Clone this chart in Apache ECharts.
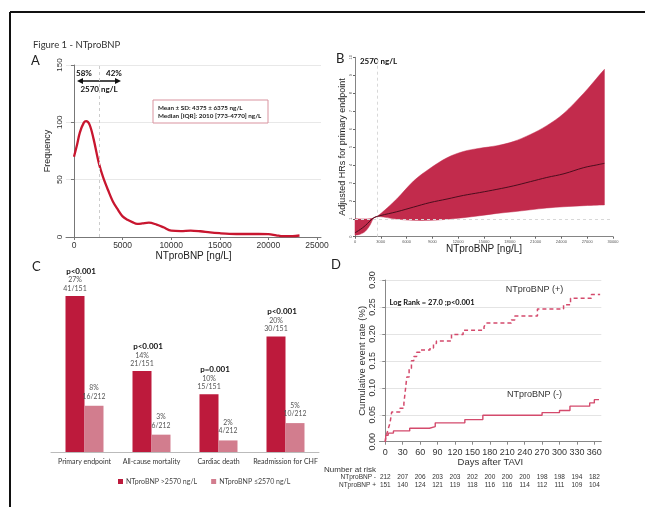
<!DOCTYPE html>
<html><head><meta charset="utf-8">
<script src="https://cdn.jsdelivr.net/npm/echarts@6/dist/echarts.min.js"></script>
<style>html,body{margin:0;padding:0;background:#fff}#c{width:645px;height:507px}</style>
</head><body><div id="c"></div>
<script>
// ---------- DATA ----------
const cutoff = 2570;
// Panel A: frequency curve of NTproBNP
const densX = [0, 300, 600, 1000, 1250, 1600, 2000, 2570, 3000, 3500, 4000, 4500, 5000, 5500, 6000, 6500, 7000, 7700, 8500, 9200, 10000, 11000, 12000, 13000, 14000, 15000, 16000, 17500, 19000, 20000, 20800, 21500, 22500, 23200];
const densY = [70, 80, 91, 99.5, 101, 98, 86, 64, 52, 41, 31, 24, 18, 15, 13, 11.5, 11.8, 12.5, 10.8, 8.5, 5.5, 5.2, 5.6, 5, 4, 3.3, 2.8, 2.6, 2.6, 2.5, 1.5, 0.7, 0.8, 1.3];
const aTicks = [0, 5000, 10000, 15000, 20000, 25000];

// Panel B: adjusted HR spline with CI
const hrX =     [0, 600, 1200, 1750, 2200, 2900, 4850, 6800, 8700, 10700, 12600, 14500, 16500, 18400, 20400, 22300, 24300, 26600, 28100, 29000];
const hrUpper = [1.0, 0.99, 0.99, 1.0, 1.05, 1.25, 2.1, 3.1, 3.8, 4.4, 4.75, 4.93, 5.07, 5.3, 5.7, 6.19, 6.88, 8.0, 8.83, 9.33];
const hrLower = [0.09, 0.14, 0.3, 0.65, 1.05, 1.12, 0.98, 0.91, 0.91, 0.97, 1.06, 1.17, 1.3, 1.39, 1.5, 1.6, 1.67, 1.73, 1.76, 1.77];
const hrMean =  [0.22, 0.4, 0.62, 0.88, 1.06, 1.17, 1.39, 1.65, 1.9, 2.1, 2.3, 2.46, 2.64, 2.83, 3.07, 3.3, 3.51, 3.85, 4.0, 4.09];

// Panel C: event rates
const endpoints = ['Primary endpoint', 'All-cause mortality', 'Cardiac death', 'Readmission for CHF'];
const pctHigh = [27, 14, 10, 20];
const pctLow = [8, 3, 2, 5];
const fracHigh = ['41/151', '21/151', '15/151', '30/151'];
const fracLow = ['16/212', '6/212', '4/212', '10/212'];
const pValues = ['p<0.001', 'p<0.001', 'p=0.001', 'p<0.001'];
const groupNames = ['NTproBNP >2570 ng/L', 'NTproBNP \u22642570 ng/L'];

// Panel D: Kaplan-Meier cumulative event rate
const dayTicks = [0, 30, 60, 90, 120, 150, 180, 210, 240, 270, 300, 330, 360];
const kmPlus = [[0,0],[1,0.01],[3,0.016],[5,0.024],[8,0.034],[11,0.055],[25,0.062],[32,0.071],[35,0.1],[37,0.12],[41,0.136],[45,0.15],[49,0.158],[54,0.166],[60,0.17],[77,0.174],[83,0.182],[88,0.187],[114,0.199],[134,0.207],[170,0.213],[173,0.22],[217,0.226],[223,0.233],[262,0.246],[307,0.254],[319,0.266],[355,0.273],[370,0.273]];
const kmMinus = [[0,0],[1,0.012],[5,0.016],[14,0.02],[42,0.025],[76,0.028],[86,0.035],[137,0.041],[168,0.049],[270,0.054],[300,0.058],[318,0.066],[352,0.072],[360,0.078],[368,0.078]];
const riskMinus = [212, 207, 206, 203, 203, 202, 200, 200, 200, 198, 198, 194, 182];
const riskPlus = [151, 140, 124, 121, 119, 118, 116, 116, 114, 112, 111, 109, 104];

// ---------- STYLE ----------
const SANS = 'Liberation Sans';
const CAL = 'Lato';
const redA = '#c8162f';
const bandCol = '#c22b4c';
const darkBar = '#bd1a3c';
const lightBar = '#d27d8e';
const kmCol = '#d44a6c';

// Catmull-Rom to cubic bezier path segments through pixel points
function splineSegs(p) {
  let s = '';
  for (let i = 0; i < p.length - 1; i++) {
    const a = p[i - 1] || p[i], b = p[i], c = p[i + 1], d = p[i + 2] || c;
    s += 'C' + (b[0] + (c[0] - a[0]) / 6) + ' ' + (b[1] + (c[1] - a[1]) / 6) + ' ' +
         (c[0] - (d[0] - b[0]) / 6) + ' ' + (c[1] - (d[1] - b[1]) / 6) + ' ' + c[0] + ' ' + c[1];
  }
  return s;
}

const chart = echarts.init(document.getElementById('c'), null, {renderer: 'canvas'});
const plain = v => String(v);

const option = {
  animation: false,
  backgroundColor: '#fff',
  grid: [
    {left: 66, top: 65, width: 255, height: 172},
    {left: 355, top: 57.3, width: 258, height: 179.4},
    {left: 51, top: 278.6, width: 268, height: 173.4},
    {left: 379.5, top: 280, width: 221.8, height: 161.7}
  ],
  legend: {
    data: groupNames, left: 113, top: 473, icon: 'rect', itemWidth: 5, itemHeight: 5, itemGap: 14,
    textStyle: {fontSize: 7, color: '#444', fontFamily: CAL, padding: [0, 0, 0, -2]}
  },
  xAxis: [
    {type: 'value', gridIndex: 0, min: -823, max: 25412,
     name: 'NTproBNP [ng/L]', nameLocation: 'middle', nameGap: 13,
     nameTextStyle: {fontFamily: SANS, fontSize: 10, color: '#222'},
     axisLine: {lineStyle: {color: '#777', width: 1}},
     axisTick: {customValues: aTicks, length: 3, lineStyle: {color: '#777'}},
     axisLabel: {customValues: aTicks, formatter: plain, fontFamily: SANS, fontSize: 8.5, color: '#333', margin: 4},
     splitLine: {show: false}},
    {type: 'value', gridIndex: 1, min: 0, max: 30000, interval: 3000,
     name: 'NTproBNP [ng/L]', nameLocation: 'middle', nameGap: 5,
     nameTextStyle: {fontFamily: SANS, fontSize: 10, color: '#222'},
     axisLine: {lineStyle: {color: '#666', width: 0.8}},
     axisTick: {length: 2, lineStyle: {color: '#666'}},
     axisLabel: {formatter: plain, fontFamily: SANS, fontSize: 4, color: '#555', margin: 3},
     splitLine: {show: false}},
    {type: 'category', gridIndex: 2, data: endpoints,
     axisLine: {lineStyle: {color: '#bbb', width: 1}},
     axisTick: {length: 4, lineStyle: {color: '#bbb'}},
     axisLabel: {interval: 0, hideOverlap: false, fontFamily: CAL, fontSize: 7, color: '#333', margin: 6}},
    {type: 'value', gridIndex: 3, min: -10, max: 372, offset: 5,
     name: 'Days after TAVI', nameLocation: 'middle', nameGap: 10,
     nameTextStyle: {fontFamily: SANS, fontSize: 9.5, color: '#333'},
     axisLine: {lineStyle: {color: '#888', width: 1}},
     axisTick: {customValues: dayTicks, length: 3, lineStyle: {color: '#888'}},
     axisLabel: {customValues: dayTicks, fontFamily: SANS, fontSize: 9, color: '#333', margin: 1},
     splitLine: {show: false}},
    {type: 'value', gridIndex: 3, min: -10, max: 372, position: 'bottom', offset: 36,
     name: 'NTproBNP -', nameLocation: 'start', nameGap: 3,
     nameTextStyle: {fontFamily: SANS, fontSize: 6.5, color: '#333', align: 'right', verticalAlign: 'middle'},
     axisLine: {show: false}, axisTick: {show: false}, splitLine: {show: false},
     axisLabel: {customValues: dayTicks, verticalAlign: 'middle', margin: 0, fontFamily: SANS, fontSize: 6.5, color: '#333',
       formatter: v => String(riskMinus[dayTicks.indexOf(v)])}},
    {type: 'value', gridIndex: 3, min: -10, max: 372, position: 'bottom', offset: 44,
     name: 'NTproBNP +', nameLocation: 'start', nameGap: 3,
     nameTextStyle: {fontFamily: SANS, fontSize: 6.5, color: '#333', align: 'right', verticalAlign: 'middle'},
     axisLine: {show: false}, axisTick: {show: false}, splitLine: {show: false},
     axisLabel: {customValues: dayTicks, verticalAlign: 'middle', margin: 0, fontFamily: SANS, fontSize: 6.5, color: '#333',
       formatter: v => String(riskPlus[dayTicks.indexOf(v)])}}
  ],
  yAxis: [
    {type: 'value', gridIndex: 0, min: 0, max: 150, interval: 50,
     name: 'Frequency', nameLocation: 'middle', nameGap: 14, nameRotate: 90,
     nameTextStyle: {fontFamily: SANS, fontSize: 9, color: '#222'},
     axisLine: {show: true, lineStyle: {color: '#777', width: 1}},
     axisTick: {show: true, length: 3, lineStyle: {color: '#777'}},
     axisLabel: {rotate: 90, fontFamily: SANS, fontSize: 8, color: '#333', margin: 2},
     splitLine: {show: true, lineStyle: {color: '#e8e8e8', width: 1}}},
    {type: 'value', gridIndex: 1, min: 0, max: 10, interval: 1,
     name: 'Adjusted HRs for primary endpoint', nameLocation: 'middle', nameGap: 8, nameRotate: 90,
     nameTextStyle: {fontFamily: SANS, fontSize: 9, color: '#222'},
     axisLine: {show: true, lineStyle: {color: '#666', width: 0.8}},
     axisTick: {show: true, length: 2, lineStyle: {color: '#666'}},
     axisLabel: {rotate: 90, fontFamily: SANS, fontSize: 4, color: '#555', margin: 2},
     splitLine: {show: false}},
    {type: 'value', gridIndex: 2, min: 0, max: 30, show: false},
    {type: 'value', gridIndex: 3, min: 0, max: 0.30, interval: 0.05,
     name: 'Cumulative event rate (%)', nameLocation: 'middle', nameGap: 12, nameRotate: 90,
     nameTextStyle: {fontFamily: SANS, fontSize: 9.5, color: '#333'},
     axisLine: {show: true, lineStyle: {color: '#888', width: 1}},
     axisTick: {show: true, length: 3, lineStyle: {color: '#888'}},
     axisLabel: {rotate: 90, fontFamily: SANS, fontSize: 9, color: '#333', margin: 2,
       formatter: v => v.toFixed(2)},
     splitLine: {show: true, lineStyle: {color: '#e4e4e4', width: 1}}}
  ],
  series: [
    // A
    {type: 'line', xAxisIndex: 0, yAxisIndex: 0, smooth: 0.35, symbol: 'none',
     data: densX.map((x, i) => [x, densY[i]]),
     lineStyle: {color: redA, width: 2.3},
     markLine: {silent: true, symbol: 'none', label: {show: false},
       lineStyle: {color: '#ccc', type: [3, 3], width: 1}, data: [{xAxis: cutoff}]}},
    // B reference lines (below the band)
    {type: 'line', xAxisIndex: 1, yAxisIndex: 1, data: [], z: 1,
     markLine: {silent: true, symbol: 'none', label: {show: false},
       lineStyle: {color: '#d8d8d8', type: [3, 3], width: 1}, data: [{xAxis: cutoff}, {yAxis: 1}]}},
    // B confidence band
    {type: 'custom', xAxisIndex: 1, yAxisIndex: 1, data: [[0, 0]], z: 2,
     renderItem: (params, api) => {
       const up = hrX.map((x, i) => api.coord([x, hrUpper[i]]));
       const lo = hrX.map((x, i) => api.coord([x, hrLower[i]])).reverse();
       const d = 'M' + up[0][0] + ' ' + up[0][1] + splineSegs(up) +
                 'L' + lo[0][0] + ' ' + lo[0][1] + splineSegs(lo) + 'Z';
       return {type: 'path', shape: {pathData: d}, style: {fill: bandCol, stroke: bandCol, lineWidth: 0.5}};
     }},
    // B mean HR
    {type: 'line', xAxisIndex: 1, yAxisIndex: 1, smooth: 0.4, symbol: 'none', z: 5,
     data: hrX.map((x, i) => [x, hrMean[i]]), lineStyle: {color: '#4b0d1d', width: 1}},
    // C
    {type: 'bar', name: groupNames[0], xAxisIndex: 2, yAxisIndex: 2, data: pctHigh,
     barWidth: 19, barGap: '0%', itemStyle: {color: darkBar}, z: 2,
     label: {show: true, position: 'top', distance: 3,
       formatter: p => `{p|${pValues[p.dataIndex]}}\n{n|${pctHigh[p.dataIndex]}%}\n{n|${fracHigh[p.dataIndex]}}`,
       rich: {p: {fontFamily: CAL, fontWeight: 'bold', fontSize: 8, color: '#111', lineHeight: 10, padding: [0, 0, 0, 12]},
              n: {fontFamily: CAL, fontSize: 7, color: '#555', lineHeight: 8.5}}}},
    {type: 'bar', name: groupNames[1], xAxisIndex: 2, yAxisIndex: 2, data: pctLow,
     barWidth: 19, barGap: '0%', itemStyle: {color: lightBar}, z: 3,
     label: {show: true, position: 'top', distance: 5,
       formatter: p => `{n|${pctLow[p.dataIndex]}%}\n{n|${fracLow[p.dataIndex]}}`,
       rich: {n: {fontFamily: CAL, fontSize: 6.8, color: '#555', lineHeight: 8.5}}}},
    // D
    {type: 'line', xAxisIndex: 3, yAxisIndex: 3, step: 'end', symbol: 'none', data: kmPlus,
     lineStyle: {color: kmCol, width: 1.5, type: [4, 3]}},
    {type: 'line', xAxisIndex: 3, yAxisIndex: 3, step: 'end', symbol: 'none', data: kmMinus,
     lineStyle: {color: kmCol, width: 1.4}}
  ],
  graphic: [
    // outer frame
    {type: 'line', shape: {x1: 10, y1: 12, x2: 645, y2: 12}, style: {stroke: '#111', lineWidth: 2}},
    {type: 'line', shape: {x1: 10, y1: 12, x2: 10, y2: 507}, style: {stroke: '#111', lineWidth: 2}},
    {type: 'text', left: 33, top: 40, style: {text: 'Figure 1 - NTproBNP', font: '9.5px Lato', fill: '#333'}},
    {type: 'text', left: 31, top: 54, style: {text: 'A', font: '13px Lato', fill: '#222'}},
    {type: 'text', left: 336, top: 52, style: {text: 'B', font: '13px Lato', fill: '#222'}},
    {type: 'text', left: 32, top: 260, style: {text: 'C', font: '13px Lato', fill: '#222'}},
    {type: 'text', left: 331, top: 258, style: {text: 'D', font: '13px Lato', fill: '#222'}},
    // panel A annotations
    {type: 'text', x: 84, y: 73, style: {text: '58%', font: 'bold 8px Lato', fill: '#111', align: 'center', verticalAlign: 'middle'}},
    {type: 'text', x: 114, y: 73, style: {text: '42%', font: 'bold 8px Lato', fill: '#111', align: 'center', verticalAlign: 'middle'}},
    {type: 'line', shape: {x1: 81, y1: 81, x2: 117, y2: 81}, style: {stroke: '#111', lineWidth: 1.6}},
    {type: 'polygon', shape: {points: [[77, 81], [83, 78], [83, 84]]}, style: {fill: '#111'}},
    {type: 'polygon', shape: {points: [[121, 81], [115, 78], [115, 84]]}, style: {fill: '#111'}},
    {type: 'text', x: 99, y: 89, style: {text: '2570 ng/L', font: 'bold 8px Lato', fill: '#111', align: 'center', verticalAlign: 'middle'}},
    {type: 'rect', shape: {x: 153, y: 100, width: 115, height: 23}, style: {fill: '#fff', stroke: '#d9939f', lineWidth: 1}, z: 10},
    {type: 'text', x: 158, y: 107.5, z: 11, style: {text: 'Mean \u00b1 SD: 4375 \u00b1 6375 ng/L', font: 'bold 6.3px Lato', fill: '#222', verticalAlign: 'middle'}},
    {type: 'text', x: 158, y: 116, z: 11, style: {text: 'Median [IQR]: 2010 [773-4770] ng/L', font: 'bold 6.3px Lato', fill: '#222', verticalAlign: 'middle'}},
    // panel B
    {type: 'text', x: 378.5, y: 61, style: {text: '2570 ng/L', font: 'bold 8px Lato', fill: '#111', align: 'center', verticalAlign: 'middle'}},
    // panel D
    {type: 'text', x: 432, y: 302.5, style: {text: 'Log Rank = 27.0 ;p<0.001', font: 'bold 7.5px Lato', fill: '#111', align: 'center', verticalAlign: 'middle'}},
    {type: 'text', x: 534.5, y: 290, style: {text: 'NTproBNP (+)', font: '9px "Liberation Sans"', fill: '#333', align: 'center', verticalAlign: 'middle'}},
    {type: 'text', x: 534.5, y: 394.5, style: {text: 'NTproBNP (-)', font: '9px "Liberation Sans"', fill: '#333', align: 'center', verticalAlign: 'middle'}},
    {type: 'text', x: 324, y: 470, style: {text: 'Number at risk', font: '8px "Liberation Sans"', fill: '#333', verticalAlign: 'middle'}}
  ]
};
chart.setOption(option);
</script>
</body></html>
